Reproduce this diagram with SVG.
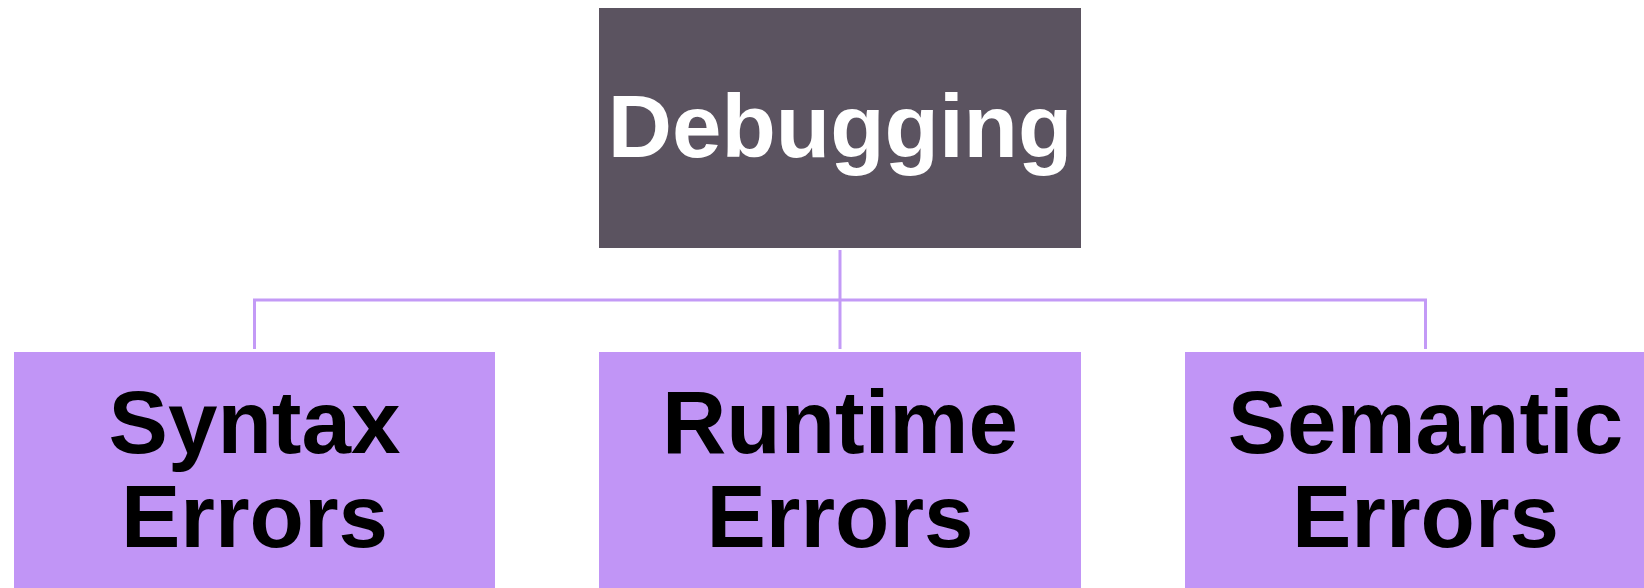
<svg xmlns="http://www.w3.org/2000/svg" width="1644" height="588" viewBox="0 0 1644 588">
<style>
.root{fill:#5B5360;}
.child{fill:#C195F6;}
.conn{stroke:#C39AF6;stroke-width:3;fill:none;}
.t{font-family:"Liberation Sans",Arial,sans-serif;font-weight:bold;font-size:89px;text-anchor:middle;}
.tw{fill:#FFFFFF;}
.tb{fill:#000000;}
</style>
<rect width="1644" height="588" fill="#FFFFFF"/>
<g id="connectors">
<path class="conn" d="M840,250 V349"/>
<path class="conn" d="M254.5,349 V300 H1425.5 V349"/>
</g>
<g id="debugging">
<rect class="root" x="599" y="8" width="482" height="240"/>
<text class="t tw" x="840" y="157">Debugging</text>
</g>
<g id="syntax-errors">
<rect class="child" x="14" y="352" width="481" height="240"/>
<text class="t tb" x="254.5" y="453">Syntax</text>
<text class="t tb" x="254.5" y="547">Errors</text>
</g>
<g id="runtime-errors">
<rect class="child" x="599" y="352" width="482" height="240"/>
<text class="t tb" x="840" y="453">Runtime</text>
<text class="t tb" x="840" y="547">Errors</text>
</g>
<g id="semantic-errors">
<rect class="child" x="1185" y="352" width="481" height="240"/>
<text class="t tb" x="1425.5" y="453">Semantic</text>
<text class="t tb" x="1425.5" y="547">Errors</text>
</g>
</svg>
